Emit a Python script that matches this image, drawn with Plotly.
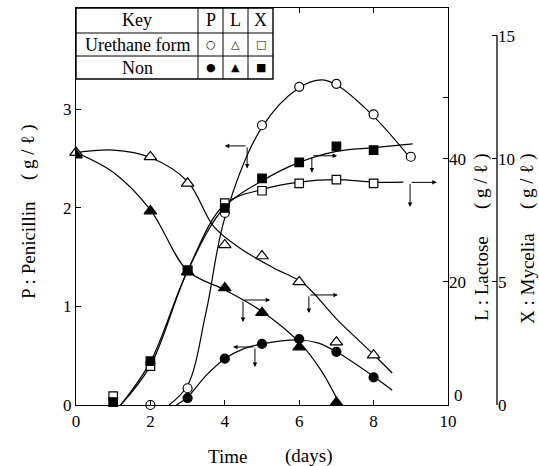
import plotly.graph_objects as go

# ---------------- data ----------------
# Penicillin P (g/l) -- markers
P_ure_days = [2, 3, 4, 5, 6, 7, 8, 9]
P_ure = [0.0, 0.17, 1.95, 2.84, 3.23, 3.26, 2.95, 2.52]
P_non_days = [3, 4, 5, 6, 7, 8]
P_non = [0.07, 0.47, 0.62, 0.67, 0.54, 0.28]

# Lactose L (g/l) -- markers
L_ure_days = [0, 2, 3, 4, 5, 6, 7, 8]
L_ure = [41.0, 40.3, 36.0, 26.0, 24.2, 20.0, 10.2, 8.1]
L_non_days = [0, 2, 3, 4, 5, 6, 7]
L_non = [40.6, 31.5, 21.6, 19.0, 15.0, 9.4, 0.4]

# Mycelia X (g/l) -- markers
X_ure_days = [1, 2, 3, 4, 5, 6, 7, 8]
X_ure = [0.36, 1.58, 5.47, 8.2, 8.7, 9.0, 9.15, 9.0]
X_non_days = [1, 2, 3, 4, 5, 6, 7, 8]
X_non = [0.12, 1.78, 5.47, 8.0, 9.2, 9.85, 10.5, 10.35]

# hand-drawn smooth curves
P_ure_curve_days = [2.5, 3, 3.5, 4, 5, 6, 6.6, 7, 8, 9]
P_ure_curve = [0.0, 0.2, 0.95, 1.9, 2.82, 3.22, 3.3, 3.25, 2.93, 2.5]
P_non_curve_days = [2.7, 3, 3.5, 4, 4.5, 5, 6, 6.5, 7, 8, 8.5]
P_non_curve = [0.0, 0.08, 0.3, 0.47, 0.57, 0.62, 0.66, 0.63, 0.54, 0.29, 0.15]
L_ure_curve_days = [0, 1, 2, 3, 3.7, 4.4, 5.3, 6.1, 7, 8, 8.5]
L_ure_curve = [41.0, 41.4, 40.2, 36.3, 29.0, 25.5, 22.3, 19.8, 14.0, 8.2, 5.2]
L_non_curve_days = [0, 1, 2, 3, 4, 5, 6, 6.6, 7.1]
L_non_curve = [41.0, 37.8, 31.7, 21.8, 18.7, 15.2, 10.2, 5.5, 0.0]
X_ure_curve_days = [1.2, 2, 3, 4, 5, 6, 7, 8, 8.8]
X_ure_curve = [0.0, 1.6, 5.45, 8.15, 8.75, 9.05, 9.15, 9.05, 9.05]
X_non_curve_days = [1.2, 2, 3, 4, 5, 6, 7, 8, 9.05]
X_non_curve = [0.0, 1.75, 5.45, 8.05, 9.1, 9.85, 10.3, 10.45, 10.6]

# axis ticks
x_ticks = [0, 2, 4, 6, 8, 10]
P_ticks = [0, 1, 2, 3]
L_ticks = [0, 20, 40, 50]
L_ticktext = ["", "20", "40", ""]
L_zero_label = "0"
X_ticks = [0, 5, 10, 15]

# key table text
key_rows = ["Urethane form", "Non"]
key_cols = ["P", "L", "X"]
key_symbols = [["○", "△", "□"], ["●", "▲", "■"]]

# ---------------- layout geometry ----------------
W, H = 539, 466
ML, MR, MT, MB = 76, 42, 8, 61
PW, PH = W - ML - MR, H - MT - MB
X_RIGHT_PX = 448


def px(xp):
    return (xp - ML) / PW


def py(yp):
    return (H - MB - yp) / PH


FONT = "Liberation Serif, Times New Roman, serif"
P_MAX = 4.03

fig = go.Figure()


def curve(xs, ys, yax):
    fig.add_trace(go.Scatter(x=xs, y=ys, mode="lines", yaxis=yax,
                             line=dict(color="black", width=1.2, shape="spline", smoothing=1.0),
                             hoverinfo="skip", cliponaxis=False))


def marks(xs, ys, yax, symbol, filled, size, clip=False):
    fig.add_trace(go.Scatter(x=xs, y=ys, mode="markers", yaxis=yax, cliponaxis=clip,
                             marker=dict(symbol=symbol, size=size,
                                         color="black" if filled else "white",
                                         line=dict(color="black", width=1.2))))


curve(P_ure_curve_days, P_ure_curve, "y")
curve(P_non_curve_days, P_non_curve, "y")
curve(L_ure_curve_days, L_ure_curve, "y2")
curve(L_non_curve_days, L_non_curve, "y2")
curve(X_ure_curve_days, X_ure_curve, "y3")
curve(X_non_curve_days, X_non_curve, "y3")

marks(P_ure_days, P_ure, "y", "circle", False, 9)
marks(P_non_days, P_non, "y", "circle", True, 9)
marks(L_ure_days, L_ure, "y2", "triangle-up", False, 11)
marks(L_non_days, L_non, "y2", "triangle-up", True, 11, clip=True)
marks(X_ure_days, X_ure, "y3", "square", False, 8.5)
marks(X_non_days, X_non, "y3", "square", True, 8.5)

tickfont = dict(family=FONT, size=17, color="black")
fig.update_layout(
    width=W, height=H, margin=dict(l=ML, r=MR, t=MT, b=MB),
    paper_bgcolor="white", plot_bgcolor="white", showlegend=False,
    xaxis=dict(domain=[0, px(X_RIGHT_PX)], range=[0, 10], tickvals=x_ticks,
               ticks="inside", ticklen=5, tickcolor="black", showline=True,
               linecolor="black", linewidth=1.3, mirror="ticks", showgrid=False,
               zeroline=False, tickfont=tickfont),
    yaxis=dict(range=[0, P_MAX], tickvals=P_ticks, ticks="inside", ticklen=5,
               tickcolor="black", showline=True, linecolor="black", linewidth=1.3,
               mirror=True, showgrid=False, zeroline=False, tickfont=tickfont),
    yaxis2=dict(overlaying="y", side="right", anchor="x", range=[0, P_MAX * 16],
                tickvals=L_ticks, ticktext=L_ticktext, ticks="inside", ticklen=5,
                tickcolor="black", showline=False, showgrid=False, zeroline=False,
                tickfont=tickfont),
    yaxis3=dict(overlaying="y", side="right", anchor="free", position=1.0,
                range=[0, P_MAX * 4], tickvals=X_ticks, ticks="inside", ticklen=5,
                tickcolor="black", showline=False, showgrid=False, zeroline=False,
                tickfont=tickfont),
)

# mycelia axis line (only 0..15)
fig.add_shape(type="line", xref="paper", yref="y3", x0=1, x1=1, y0=0, y1=15,
              line=dict(color="black", width=1.3))

# ---------------- key table ----------------
tbl_l, tbl_r, tbl_t, tbl_b = 76, 273, 8, 79
col_x = [198, 223, 248]
row_y = [33, 56]
fig.add_shape(type="rect", xref="paper", yref="paper", x0=px(tbl_l), x1=px(tbl_r),
              y0=py(tbl_b), y1=py(tbl_t), fillcolor="white",
              line=dict(color="black", width=1.4), layer="above")
for cx in col_x:
    fig.add_shape(type="line", xref="paper", yref="paper", x0=px(cx), x1=px(cx),
                  y0=py(tbl_b), y1=py(tbl_t), line=dict(color="black", width=1), layer="above")
for ry in row_y:
    fig.add_shape(type="line", xref="paper", yref="paper", x0=px(tbl_l), x1=px(tbl_r),
                  y0=py(ry), y1=py(ry), line=dict(color="black", width=1), layer="above")


def ann(text, xp, yp, font, angle=0, xanchor="center"):
    fig.add_annotation(text=text, xref="paper", yref="paper", x=px(xp), y=py(yp),
                       xanchor=xanchor, yanchor="middle", showarrow=False,
                       textangle=angle, font=font)


tfont = dict(family=FONT, size=18, color="black")
sfont = dict(family="DejaVu Sans", size=11, color="black")
ann("Key", (tbl_l + col_x[0]) / 2, (tbl_t + row_y[0]) / 2, tfont)
col_centers = [(col_x[0] + col_x[1]) / 2, (col_x[1] + col_x[2]) / 2, (col_x[2] + tbl_r) / 2]
for cc, lab in zip(col_centers, key_cols):
    ann(lab, cc, (tbl_t + row_y[0]) / 2, tfont)
row_centers = [(row_y[0] + row_y[1]) / 2, (row_y[1] + tbl_b) / 2]
for rc, lab, syms in zip(row_centers, key_rows, key_symbols):
    ann(lab, (tbl_l + col_x[0]) / 2, rc, tfont)
    for cc, s in zip(col_centers, syms):
        ann(s, cc, rc, sfont)

# lactose zero label, set slightly above the corner as in the original
ann(L_zero_label, 452, 395, tickfont, xanchor="left")

# ---------------- axis titles ----------------
title_font = dict(family=FONT, size=19, color="black")
ann("Time", 227, 456, title_font)
ann("(days)", 308, 456, title_font)
ann("P : Penicillin", 28, 250, title_font, -90)
ann("( g / ℓ )", 28, 152, title_font, -90)
ann("L : Lactose", 481, 279, title_font, -90)
ann("( g / ℓ )", 481, 181, title_font, -90)
ann("X : Mycelia", 527, 279, title_font, -90)
ann("( g / ℓ )", 527, 181, title_font, -90)

# ---------------- corner arrows (in day / penicillin coordinates) ----------------
corner_arrows = [
    ((4.60, 2.63), (4.00, 2.63), (4.60, 2.40)),
    ((6.34, 2.53), (7.02, 2.53), (6.34, 2.36)),
    ((8.98, 2.26), (9.70, 2.26), (8.98, 2.01)),
    ((6.26, 1.117), (7.04, 1.117), (6.26, 0.934)),
    ((4.49, 1.066), (5.22, 1.066), (4.49, 0.843)),
    ((4.81, 0.589), (4.22, 0.589), (4.81, 0.386)),
]
for corner, h_head, v_head in corner_arrows:
    for head in (h_head, v_head):
        fig.add_annotation(x=head[0], y=head[1], ax=corner[0], ay=corner[1],
                           xref="x", yref="y", axref="x", ayref="y", text="",
                           showarrow=True, arrowhead=2, arrowsize=0.9, arrowwidth=1,
                           arrowcolor="black", standoff=0, startstandoff=0)

fig.write_html("out.html", config={"displayModeBar": False},
               post_script="document.body.style.margin='0';document.body.style.overflow='hidden';")
